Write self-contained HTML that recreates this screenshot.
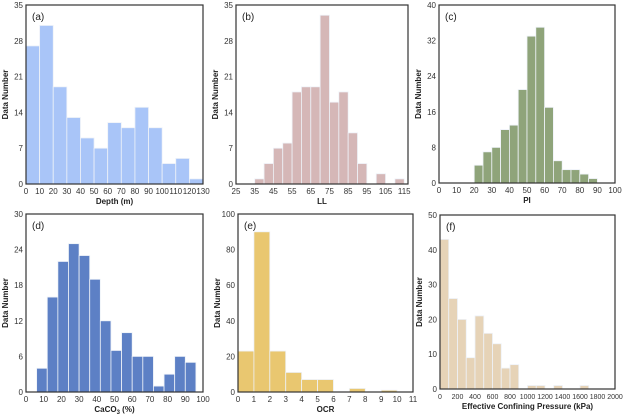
<!DOCTYPE html>
<html><head><meta charset="utf-8"><style>
body{margin:0;background:#fff;}
svg{display:block;font-family:"Liberation Sans",Arial,sans-serif;}
</style></head><body>
<svg id="c" width="623" height="415"></svg>
<script>
// data arrays
const aCounts=[27,31,19,13,9,7,12,11,15,11,4,5,1];
const bCounts=[1,4,7,8,18,19,19,33,16,18,10,4,0,2,0,1];
const cCounts=[4,7,8,12,13,21,33,35,17,5,3,3,2,1];
const dCounts=[4,16,22,25,23,19,12,7,10,6,6,1,3,6,5];
const eCounts=[23,90,23,11,7,7,0,2,0,1];
const fCounts=[43,26,20,9,21,16,13,6,7,0,1,1,0,1,0,0,1];
const aXTicks=[0,10,20,30,40,50,60,70,80,90,100,110,120,130];
const bXTicks=[25,35,45,55,65,75,85,95,105,115];
const cXTicks=[0,10,20,30,40,50,60,70,80,90,100];
const dXTicks=[0,10,20,30,40,50,60,70,80,90,100];
const eXTicks=[0,1,2,3,4,5,6,7,8,9,10,11];
const fXTicks=[0,200,400,600,800,1000,1200,1400,1600,1800,2000];
const aYTicks=[0,7,14,21,28,35];
const bYTicks=[0,7,14,21,28,35];
const cYTicks=[0,8,16,24,32,40];
const dYTicks=[0,6,12,18,24,30];
const eYTicks=[0,20,40,60,80,100];
const fYTicks=[0,10,20,30,40,50];

const panels=[
 {id:'a',counts:aCounts,start:0,w:10,xmin:0,xmax:130,ymax:35,xt:aXTicks,yt:aYTicks,box:[26,5,203,184],col:'#a9c5f8',xl:'Depth (m)'},
 {id:'b',counts:bCounts,start:35,w:5,xmin:25,xmax:117,ymax:35,xt:bXTicks,yt:bYTicks,box:[236,5,408,184],col:'#d5b7b7',xl:'LL'},
 {id:'c',counts:cCounts,start:20,w:5,xmin:0,xmax:100,ymax:40,xt:cXTicks,yt:cYTicks,box:[439,5,615,183],col:'#8fa47a',xl:'PI'},
 {id:'d',counts:dCounts,start:6,w:6,xmin:0,xmax:100,ymax:30,xt:dXTicks,yt:dYTicks,box:[26,214,203,392],col:'#5d80c5',xl:'CaCO3 (%)'},
 {id:'e',counts:eCounts,start:0,w:1,xmin:0,xmax:11,ymax:100,xt:eXTicks,yt:eYTicks,box:[238,214,413,392],col:'#e9c770',xl:'OCR'},
 {id:'f',counts:fCounts,start:0,w:100,xmin:0,xmax:2000,ymax:50,xt:fXTicks,yt:fYTicks,box:[440,215,615,389],col:'#e6d3b7',xl:'Effective Confining Pressure (kPa)'}
];
const NS='http://www.w3.org/2000/svg';
const svg=document.getElementById('c');
function mk(t,a,p){const e=document.createElementNS(NS,t);for(const k in a)e.setAttribute(k,a[k]);(p||svg).appendChild(e);return e;}
panels.forEach(p=>{
 const [x0,y0,x1,y1]=p.box;
 const g=mk('g',{});
 
 
 const X=v=>x0+(v-p.xmin)/(p.xmax-p.xmin)*(x1-x0);
 const Y=v=>y1-v/p.ymax*(y1-y0);
 p.counts.forEach((c,i)=>{
  if(!c)return;
  const a=p.start+i*p.w;
  const r=mk('rect',{x:X(a),y:Y(c),width:X(a+p.w)-X(a),height:y1-Y(c),fill:p.col,stroke:'#eef2f8','stroke-width':0.8},g);
  
  
 });
 const fr=mk('rect',{x:x0,y:y0,width:x1-x0,height:y1-y0,fill:'none',stroke:'#333','stroke-width':1.2},g);
 
 
 p.yt.forEach(v=>{
  const t=mk('text',{x:x0-3,y:Y(v)+3,'text-anchor':'end','font-size':8,fill:'#333'},g);t.textContent=v;
  
  
 });
 p.xt.forEach(v=>{
  const t=mk('text',{x:X(v),y:y1+10,'text-anchor':'middle','font-size':p.id=='f'?7:8,fill:'#333'},g);t.textContent=v;
  
  
 });
 const xl=mk('text',{x:(x0+x1)/2,y:y1+20,'text-anchor':'middle','font-size':8,'font-weight':'bold',fill:'#222'},g);
 if(p.id=='d'){xl.innerHTML='CaCO<tspan font-size="6" dy="2">3</tspan><tspan dy="-2"> (%)</tspan>';}else xl.textContent=p.xl;
 
 
 const yx=x0-18, yy=(y0+y1)/2;
 const yl=mk('text',{x:yx,y:yy,'text-anchor':'middle','font-size':8,'font-weight':'bold',fill:'#222',transform:`rotate(-90 ${yx} ${yy})`},g);yl.textContent='Data Number';
 
 
 const pl=mk('text',{x:x0+6,y:y0+15,'font-size':10,fill:'#222'},g);pl.textContent='('+p.id+')';
 
 
});
</script>
</body></html>
